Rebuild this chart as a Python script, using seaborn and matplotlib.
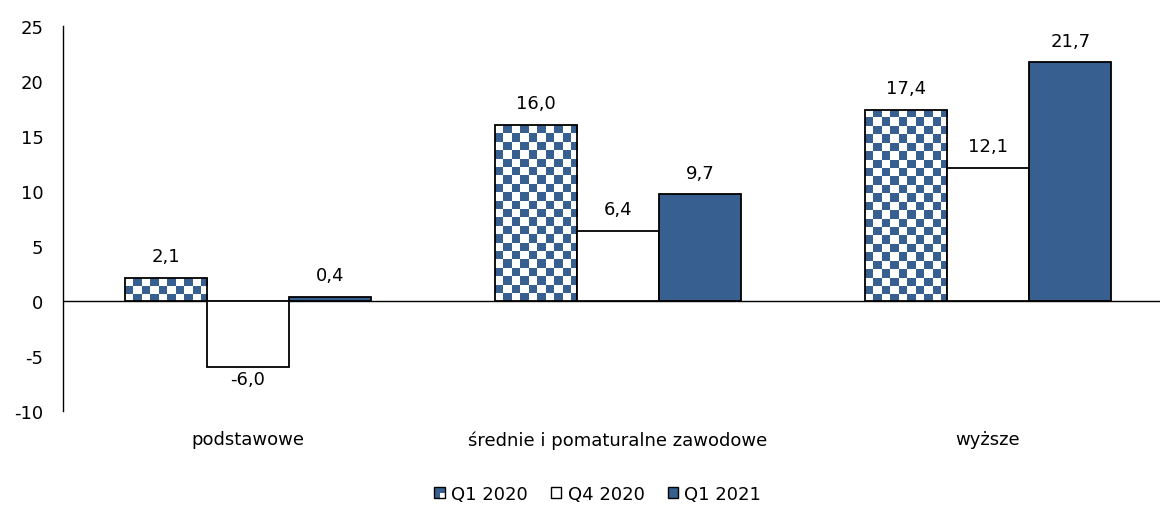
import numpy as np
import pandas as pd
import matplotlib
matplotlib.use("Agg")
import matplotlib.pyplot as plt
from matplotlib.colors import ListedColormap
from matplotlib.patches import Rectangle, Patch
from matplotlib.legend_handler import HandlerBase
import seaborn as sns

# Education level categories and survey periods
categories = ["podstawowe", "średnie i pomaturalne zawodowe", "wyższe"]
periods = ["Q1 2020", "Q4 2020", "Q1 2021"]
q1_2020 = [2.1, 16.0, 17.4]
q4_2020 = [-6.0, 6.4, 12.1]
q1_2021 = [0.4, 9.7, 21.7]
yticks = [-10, -5, 0, 5, 10, 15, 20, 25]

BLUE = "#375F8F"
FS = 13

df = pd.DataFrame({
    "kategoria": categories * 3,
    "okres": [periods[0]] * 3 + [periods[1]] * 3 + [periods[2]] * 3,
    "wartosc": q1_2020 + q4_2020 + q1_2021,
})

sns.set_theme(style="white")
plt.rcParams["font.family"] = ["DejaVu Sans"]
plt.rcParams["text.color"] = "black"

fig = plt.figure(figsize=(11.6, 5.1), dpi=100)
ax = fig.add_axes([63 / 1160, 98 / 510, 1110 / 1160, 385 / 510])

palette = {periods[0]: "white", periods[1]: "white", periods[2]: BLUE}
sns.barplot(data=df, x="kategoria", y="wartosc", hue="okres",
            order=categories, hue_order=periods, palette=palette,
            width=0.667, edgecolor="black", linewidth=1.3, saturation=1,
            errorbar=None, legend=False, ax=ax)

ax.set_xlim(-0.5, 2.5)
ax.set_ylim(-10, 25)
ax.axhline(0, color="black", lw=1, zorder=0.5)

# Checkerboard fill for the first period, clipped to each bar
fig.canvas.draw()
tr = ax.transData
cell_px = 8.4
checker_cmap = ListedColormap(["white", BLUE])
for bar in ax.containers[0]:
    x0, y0 = bar.get_x(), bar.get_y()
    w, h = bar.get_width(), bar.get_height()
    if h < 0:
        y0, h = y0 + h, -h
    (px0, py0), (px1, py1) = tr.transform([(x0, y0), (x0 + w, y0 + h)])
    nx = int(np.ceil(abs(px1 - px0) / cell_px)) + 1
    ny = int(np.ceil(abs(py1 - py0) / cell_px)) + 1
    dx = w / (abs(px1 - px0) / cell_px)
    dy = h / (abs(py1 - py0) / cell_px)
    grid = (np.add.outer(np.arange(ny), np.arange(nx)) % 2).astype(float)
    top = y0 + h
    im = ax.imshow(grid, cmap=checker_cmap, vmin=0, vmax=1, aspect="auto",
                   interpolation="nearest", origin="upper",
                   extent=(x0, x0 + nx * dx, top - ny * dy, top), zorder=0.8)
    im.set_clip_path(bar)
    bar.set_facecolor("none")
    bar.set_zorder(1)

ax.set_xlim(-0.5, 2.5)
ax.set_ylim(-10, 25)

# Value labels with decimal commas
for cont in ax.containers:
    for bar in cont:
        v = bar.get_height()
        if abs(v) < 1e-9:
            continue
        xc = bar.get_x() + bar.get_width() / 2
        txt = f"{v:.1f}".replace(".", ",")
        off = 15.5 if v >= 0 else -9
        ax.annotate(txt, (xc, v), xytext=(0, off), textcoords="offset points",
                    ha="center", va="center", fontsize=FS, color="black")

for s in ["top", "right", "bottom"]:
    ax.spines[s].set_visible(False)
ax.spines["left"].set_color("black")
ax.spines["left"].set_linewidth(1)

ax.set_yticks(yticks)
ax.set_yticklabels([str(t) for t in yticks])
ax.tick_params(axis="y", length=0, pad=14, labelsize=FS, labelcolor="black")
ax.tick_params(axis="x", length=0, pad=14, labelsize=FS, labelcolor="black")
ax.set_xlabel("")
ax.set_ylabel("")
ax.grid(False)


class CheckerHandler(HandlerBase):
    def create_artists(self, legend, orig_handle, xdescent, ydescent,
                       width, height, fontsize, trans):
        s = height
        x = -xdescent + (width - s) / 2
        y = -ydescent
        base = Rectangle((x, y), s, s, facecolor="white", edgecolor="none",
                         transform=trans)
        left = Rectangle((x, y), s / 2, s, facecolor=BLUE, edgecolor="none",
                         transform=trans)
        tr_q = Rectangle((x + s / 2, y + s / 2), s / 2, s / 2, facecolor=BLUE,
                         edgecolor="none", transform=trans)
        border = Rectangle((x, y), s, s, facecolor="none", edgecolor="black",
                           lw=1, transform=trans)
        return [base, left, tr_q, border]


h1 = Patch(facecolor="white", edgecolor="black")
h2 = Patch(facecolor="white", edgecolor="black", lw=1)
h3 = Patch(facecolor=BLUE, edgecolor="black", lw=1)
leg = fig.legend([h1, h2, h3], periods, loc="center",
                 bbox_to_anchor=(598 / 1160, 15 / 510), ncol=3, frameon=False,
                 fontsize=FS, handlelength=0.55, handleheight=0.55,
                 handletextpad=0.35, columnspacing=1.3,
                 handler_map={h1: CheckerHandler()})
for t in leg.get_texts():
    t.set_color("black")

fig.savefig("out.png", dpi=100)
